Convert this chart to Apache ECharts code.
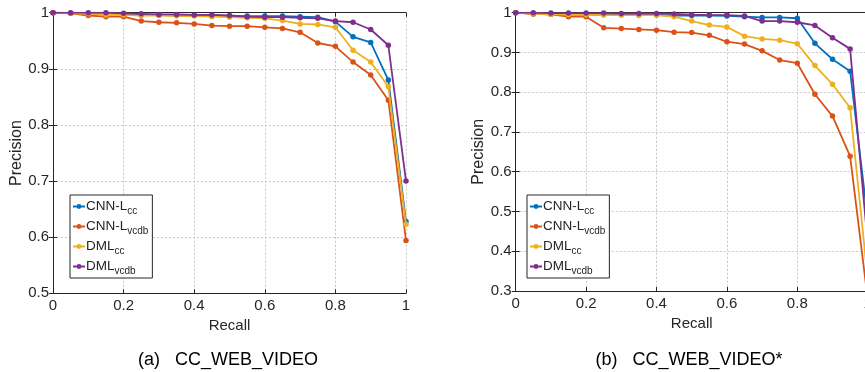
<!DOCTYPE html>
<html>
<head>
<meta charset="utf-8">
<script src="https://cdn.jsdelivr.net/npm/echarts@6/dist/echarts.min.js"></script>
<style>
  html, body { margin: 0; padding: 0; background: #fff; }
  #chart { width: 865px; height: 372px; }
</style>
</head>
<body>
<div id="chart"></div>
<script>
// recall levels shared by both panels
const recall = [0, 0.05, 0.1, 0.15, 0.2, 0.25, 0.3, 0.35, 0.4, 0.45, 0.5,
  0.55, 0.6, 0.65, 0.7, 0.75, 0.8, 0.85, 0.9, 0.95, 1];

// (a) CC_WEB_VIDEO
const aCnnCc = [1.0, 0.999, 0.998, 0.997, 0.997, 0.996, 0.996, 0.995, 0.995, 0.995, 0.994,
  0.994, 0.994, 0.994, 0.993, 0.992, 0.984, 0.957, 0.947, 0.880, 0.628];
const aCnnVcdb = [1.0, 0.999, 0.995, 0.993, 0.993, 0.985, 0.983, 0.982, 0.980, 0.977, 0.976,
  0.976, 0.974, 0.972, 0.965, 0.946, 0.940, 0.912, 0.889, 0.844, 0.594];
const aDmlCc = [1.0, 0.999, 0.998, 0.996, 0.996, 0.995, 0.995, 0.994, 0.994, 0.993, 0.992,
  0.991, 0.990, 0.986, 0.980, 0.979, 0.974, 0.933, 0.912, 0.868, 0.623];
const aDmlVcdb = [1.0, 1.0, 1.0, 1.0, 0.999, 0.998, 0.997, 0.997, 0.996, 0.996, 0.995,
  0.993, 0.992, 0.992, 0.991, 0.990, 0.985, 0.983, 0.970, 0.942, 0.700];

// (b) CC_WEB_VIDEO*
const bCnnCc = [1.0, 0.997, 0.996, 0.995, 0.995, 0.995, 0.995, 0.994, 0.994, 0.993, 0.993,
  0.993, 0.992, 0.990, 0.988, 0.988, 0.986, 0.923, 0.883, 0.853, 0.48];
const bCnnVcdb = [1.0, 0.997, 0.996, 0.990, 0.990, 0.962, 0.960, 0.958, 0.956, 0.951, 0.950,
  0.943, 0.927, 0.921, 0.904, 0.881, 0.873, 0.795, 0.740, 0.639, 0.28];
const bDmlCc = [1.0, 0.997, 0.996, 0.995, 0.995, 0.994, 0.994, 0.994, 0.994, 0.990, 0.979,
  0.969, 0.964, 0.941, 0.934, 0.931, 0.922, 0.867, 0.820, 0.761, 0.33];
const bDmlVcdb = [1.0, 1.0, 0.999, 0.999, 0.999, 0.999, 0.998, 0.998, 0.998, 0.997, 0.995,
  0.994, 0.994, 0.992, 0.979, 0.979, 0.976, 0.968, 0.937, 0.909, 0.42];

const names = ['CNN-Lcc', 'CNN-Lvcdb', 'DMLcc', 'DMLvcdb'];
const labels = {
  'CNN-Lcc': '{a|CNN-L}{b|cc}',
  'CNN-Lvcdb': '{a|CNN-L}{b|vcdb}',
  'DMLcc': '{a|DML}{b|cc}',
  'DMLvcdb': '{a|DML}{b|vcdb}'
};
const colors = ['#0072BD', '#D95319', '#EDB120', '#7E2F8E'];
const titles = ['(a)   CC_WEB_VIDEO', '(b)   CC_WEB_VIDEO*'];

const font = 'Liberation Sans, Arial, sans-serif';
const ink = '#262626';

function xAxis(gridIndex, position, main) {
  return {
    type: 'value', gridIndex: gridIndex, position: position,
    min: 0, max: 1, interval: 0.2,
    name: main ? 'Recall' : '', nameLocation: 'middle', nameGap: 18,
    nameTextStyle: { fontFamily: font, fontSize: 15, color: ink },
    axisLine: { show: true, lineStyle: { color: ink, width: 1 } },
    axisTick: { show: true, inside: true, length: 4, lineStyle: { color: ink } },
    axisLabel: { show: main, fontFamily: font, fontSize: 15, color: ink, margin: 5,
      showMinLabel: true, showMaxLabel: true, hideOverlap: false },
    splitLine: { show: main, lineStyle: { color: '#c8c8c8', type: [2, 2] } }
  };
}

function yAxis(gridIndex, position, main, min, gap) {
  return {
    type: 'value', gridIndex: gridIndex, position: position,
    min: min, max: 1, interval: 0.1,
    name: main ? 'Precision' : '', nameLocation: 'middle', nameGap: gap,
    nameTextStyle: { fontFamily: font, fontSize: 16, color: ink },
    axisLine: { show: true, lineStyle: { color: ink, width: 1 } },
    axisTick: { show: true, inside: true, length: 4, lineStyle: { color: ink } },
    axisLabel: { show: main, fontFamily: font, fontSize: 15, color: ink, margin: 4,
      showMinLabel: true, showMaxLabel: true, hideOverlap: false },
    splitLine: { show: main, lineStyle: { color: '#c8c8c8', type: [2, 2] } }
  };
}

function legend(left) {
  return {
    data: names, orient: 'vertical', left: left, top: 195,
    backgroundColor: '#fff', borderColor: ink, borderWidth: 1,
    padding: [2, 4, 2, 2], itemGap: 1, itemWidth: 12, itemHeight: 6,
    formatter: function (n) { return labels[n]; },
    textStyle: {
      fontFamily: font, color: ink, padding: [0, 0, 0, -4],
      rich: {
        a: { fontFamily: font, fontSize: 13.5, color: ink, lineHeight: 20 },
        b: { fontFamily: font, fontSize: 10, color: ink, lineHeight: 20, padding: [9, 0, 0, 0] }
      }
    }
  };
}

function lines(xi, yi, sets) {
  return sets.map(function (vals, i) {
    return {
      name: names[i], type: 'line', xAxisIndex: xi, yAxisIndex: yi,
      data: recall.map(function (r, j) { return [r, vals[j]]; }),
      symbol: 'circle', symbolSize: 5.5, showSymbol: true,
      color: colors[i], lineStyle: { width: 1.8 }, clip: true, z: 2 + i,
      animation: false
    };
  });
}

const chart = echarts.init(document.getElementById('chart'), null, { renderer: 'canvas' });

chart.setOption({
  backgroundColor: '#fff',
  animation: false,
  title: [
    { text: titles[0], left: 223, top: 346, textAlign: 'center',
      textStyle: { fontFamily: font, fontSize: 18, fontWeight: 'normal', color: '#000' } },
    { text: titles[1], left: 684, top: 346, textAlign: 'center',
      textStyle: { fontFamily: font, fontSize: 18, fontWeight: 'normal', color: '#000' } }
  ],
  legend: [legend(70), legend(527)],
  grid: [
    { left: 53, top: 12.7, width: 353, height: 280.6, outerBoundsMode: 'none', containLabel: false },
    { left: 515.7, top: 12.7, width: 352, height: 278.3, outerBoundsMode: 'none', containLabel: false }
  ],
  xAxis: [xAxis(0, 'bottom', true), xAxis(0, 'top', false),
    xAxis(1, 'bottom', true), xAxis(1, 'top', false)],
  yAxis: [yAxis(0, 'left', true, 0.5, 25), yAxis(0, 'right', false, 0.5, 25),
    yAxis(1, 'left', true, 0.3, 29), yAxis(1, 'right', false, 0.3, 29)],
  series: lines(0, 0, [aCnnCc, aCnnVcdb, aDmlCc, aDmlVcdb])
    .concat(lines(2, 2, [bCnnCc, bCnnVcdb, bDmlCc, bDmlVcdb]))
});
</script>
</body>
</html>
